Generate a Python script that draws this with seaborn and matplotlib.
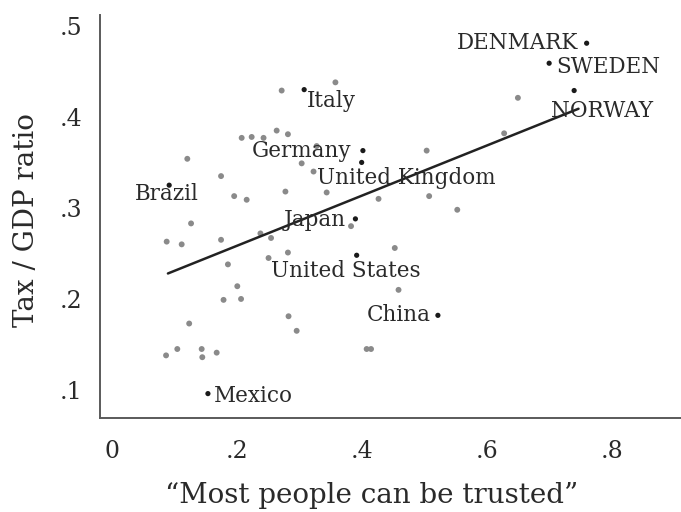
import pandas as pd
import seaborn as sns
import matplotlib.pyplot as plt
from matplotlib.ticker import FuncFormatter

# unlabelled countries (grey dots): trust share, tax/GDP
trust_other = [.272, .358, .208, .224, .243, .264, .282, .304, .323, .328,
               .121, .175, .196, .216, .278, .344, .427, .504, .508, .553,
               .628, .650, .127, .383, .088, .112, .175, .238, .255, .282,
               .251, .186, .453, .201, .179, .207, .459, .283, .296, .124,
               .087, .105, .144, .145, .168, .408, .415]
tax_other = [.429, .438, .377, .378, .377, .385, .381, .349, .340, .368,
             .354, .335, .313, .309, .318, .317, .310, .363, .313, .298,
             .382, .421, .283, .280, .263, .260, .265, .272, .267, .251,
             .245, .238, .256, .214, .199, .200, .210, .181, .165, .173,
             .138, .145, .145, .136, .141, .145, .145]

# labelled countries (black dots)
countries = ['DENMARK', 'SWEDEN', 'NORWAY', 'Italy', 'Germany', 'United Kingdom',
             'Brazil', 'Japan', 'United States', 'China', 'Mexico']
trust_lab = [.760, .700, .740, .308, .402, .400, .092, .390, .392, .522, .154]
tax_lab = [.481, .459, .429, .430, .363, .350, .325, .288, .248, .182, .096]

# fitted line end points
fit_x = [.090, .747]
fit_y = [.228, .409]

# label placement: offset in points and horizontal alignment
label_style = {
    'DENMARK': (-6, 0, 'right'),
    'SWEDEN': (5, -2.5, 'left'),
    'NORWAY': (-17, -14.5, 'left'),
    'Italy': (2, -8.5, 'left'),
    'Germany': (-8, 0, 'right'),
    'United Kingdom': (-32, -11, 'left'),
    'Brazil': (-24.5, -6, 'left'),
    'Japan': (-7, -1, 'right'),
    'United States': (-62, -11, 'left'),
    'China': (-5.5, 0, 'right'),
    'Mexico': (4.5, -2, 'left'),
}

other = pd.DataFrame({'trust': trust_other, 'tax': tax_other})
lab = pd.DataFrame({'country': countries, 'trust': trust_lab, 'tax': tax_lab})
fit = pd.DataFrame({'trust': fit_x, 'tax': fit_y})

sns.set_style('white')
plt.rcParams['font.family'] = ['DejaVu Serif']

fig = plt.figure(figsize=(6.81, 5.12), dpi=100)
ax = fig.add_axes([100 / 681, 94 / 512, 581 / 681, 403 / 512])

sns.scatterplot(data=other, x='trust', y='tax', color='#8a8a8a', s=18,
                edgecolor='none', ax=ax)
sns.scatterplot(data=lab, x='trust', y='tax', color='#1a1a1a', s=14,
                edgecolor='none', ax=ax)
sns.lineplot(data=fit, x='trust', y='tax', color='#222222', linewidth=1.8, ax=ax)

for _, r in lab.iterrows():
    dx, dy, ha = label_style[r.country]
    ax.annotate(r.country, (r.trust, r.tax), xytext=(dx, dy),
                textcoords='offset points', ha=ha, va='center',
                fontsize=15.5, color='#2a2a2a')

ax.set_xlim(-0.0187, 0.911)
ax.set_ylim(0.0692, 0.512)
ax.set_xticks([0, .2, .4, .6, .8])
ax.set_yticks([.1, .2, .3, .4, .5])
fmt = FuncFormatter(lambda v, p: '0' if abs(v) < 1e-9 else ('%.1f' % v).lstrip('0'))
ax.xaxis.set_major_formatter(fmt)
ax.yaxis.set_major_formatter(fmt)

sns.despine(ax=ax)
for side in ['left', 'bottom']:
    ax.spines[side].set_color('#5a5a5a')
    ax.spines[side].set_linewidth(1.4)
ax.tick_params(axis='both', direction='out', length=4.5, width=1.2,
               color='#5a5a5a', labelsize=17, labelcolor='#2a2a2a')
ax.tick_params(axis='x', pad=11)
ax.tick_params(axis='y', pad=8)

ax.set_xlabel('\u201cMost people can be trusted\u201d', fontsize=20,
              color='#2a2a2a')
ax.set_ylabel('Tax / GDP ratio', fontsize=20, color='#2a2a2a')
ax.xaxis.set_label_coords(0.468, -0.158)
ax.yaxis.set_label_coords(-0.104, 0.49)

plt.savefig('out.png', dpi=100)
